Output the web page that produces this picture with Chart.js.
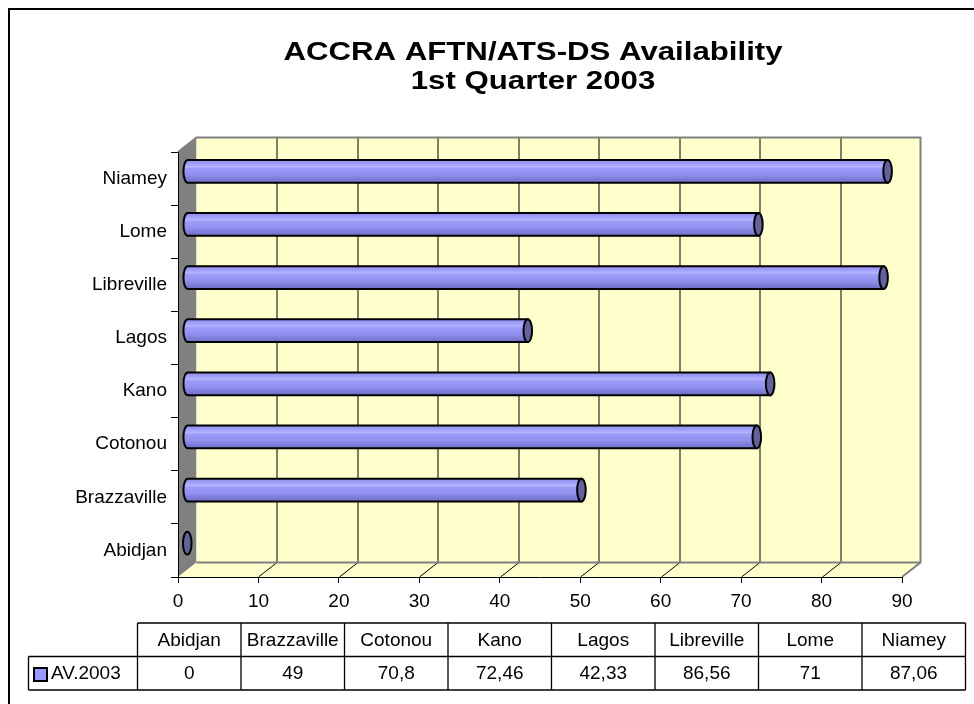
<!DOCTYPE html>
<html>
<head>
<meta charset="utf-8">
<script src="https://cdn.jsdelivr.net/npm/chart.js@4.4.1/dist/chart.umd.min.js"></script>
<style>
  html, body { margin: 0; padding: 0; background: #fff; }
  #wrap { width: 974px; height: 704px; }
</style>
</head>
<body>
<div id="wrap"><canvas id="chart" width="974" height="704"></canvas></div>
<script>
// data
const stations = ['Abidjan', 'Brazzaville', 'Cotonou', 'Kano', 'Lagos', 'Libreville', 'Lome', 'Niamey'];
const av2003 = [0, 49, 70.8, 72.46, 42.33, 86.56, 71, 87.06];
const seriesName = 'AV.2003';
const titleLines = ['ACCRA AFTN/ATS-DS Availability', '1st Quarter 2003'];
const xMin = 0, xMax = 90, xStep = 10;

const FONT = '"Liberation Sans", Arial, sans-serif';
const DX = 18.5, DY = 14.5;   // depth of the 3d box
const WALL = '#FFFFCC';
const SIDE = '#808080';

// table under the plot
const tableLeft = 137.5, colW = 103.5, keyColLeft = 28.5;
const rowTop = 623, rowH = 33.5;

function fmt(v) {
    return String(v).replace('.', ',');
}

const boxPlugin = {
    id: 'box3d',
    beforeDraw(chart) {
        const { ctx, chartArea: a, scales: { x } } = chart;
        ctx.save();
        ctx.fillStyle = '#fff';
        ctx.fillRect(0, 0, chart.width, chart.height);

        // chart frame
        ctx.strokeStyle = '#000';
        ctx.lineWidth = 2;
        ctx.beginPath();
        ctx.moveTo(9, chart.height);
        ctx.lineTo(9, 9);
        ctx.lineTo(chart.width, 9);
        ctx.stroke();

        // title (the original is rendered a bit wide)
        ctx.fillStyle = '#000';
        ctx.font = 'bold 26px ' + FONT;
        ctx.textAlign = 'center';
        ctx.textBaseline = 'middle';
        [53, 82].forEach((ty, i) => {
            ctx.save();
            ctx.translate(533, ty);
            ctx.scale(1.2, 1);
            ctx.fillText(titleLines[i], 0, 0);
            ctx.restore();
        });

        // side wall
        ctx.fillStyle = SIDE;
        ctx.beginPath();
        ctx.moveTo(a.left, a.top);
        ctx.lineTo(a.left + DX, a.top - DY);
        ctx.lineTo(a.left + DX, a.bottom - DY);
        ctx.lineTo(a.left, a.bottom);
        ctx.closePath();
        ctx.fill();

        // back wall
        ctx.fillStyle = WALL;
        ctx.fillRect(a.left + DX, a.top - DY, a.right - a.left, a.bottom - a.top);

        // floor
        ctx.beginPath();
        ctx.moveTo(a.left, a.bottom);
        ctx.lineTo(a.left + DX, a.bottom - DY);
        ctx.lineTo(a.right + DX, a.bottom - DY);
        ctx.lineTo(a.right, a.bottom);
        ctx.closePath();
        ctx.fill();

        // gridlines on back wall and floor
        ctx.strokeStyle = '#000';
        ctx.lineWidth = 1;
        x.ticks.forEach(t => {
            if (t.value <= xMin || t.value >= xMax) return;
            const px = Math.round(x.getPixelForValue(t.value)) + 0.5;
            ctx.beginPath();
            ctx.moveTo(px + DX, a.top - DY);
            ctx.lineTo(px + DX, a.bottom - DY);
            ctx.moveTo(px + DX, a.bottom - DY);
            ctx.lineTo(px, a.bottom);
            ctx.stroke();
        });

        // grey edges of the box
        ctx.strokeStyle = SIDE;
        ctx.lineWidth = 2;
        ctx.beginPath();
        ctx.moveTo(a.left, a.top);
        ctx.lineTo(a.left + DX, a.top - DY);
        ctx.lineTo(a.right + DX, a.top - DY);
        ctx.lineTo(a.right + DX, a.bottom - DY);
        ctx.lineTo(a.right, a.bottom);
        ctx.moveTo(a.left + DX, a.bottom - DY);
        ctx.lineTo(a.right + DX, a.bottom - DY);
        ctx.stroke();
        ctx.restore();
    },
    afterDatasetsDraw(chart) {
        const { ctx } = chart;
        const meta = chart.getDatasetMeta(0);
        ctx.save();
        meta.data.forEach(bar => {
            const p = bar.getProps(['x', 'y', 'base', 'height'], true);
            const x0 = p.base + DX / 2, x1 = p.x + DX / 2;
            const cy = p.y - DY / 2, ry = p.height / 2, rx = 4.3;
            ctx.lineWidth = 2;
            ctx.strokeStyle = '#000';
            if (x1 - x0 > 0.5) {
                const g = ctx.createLinearGradient(0, cy - ry, 0, cy + ry);
                g.addColorStop(0, '#8c8ce6');
                g.addColorStop(0.22, '#a6a6ff');
                g.addColorStop(0.3, '#b4b4ff');
                g.addColorStop(0.38, '#9c9cf8');
                g.addColorStop(0.65, '#9090ee');
                g.addColorStop(0.8, '#8080dc');
                g.addColorStop(1, '#7070c8');
                ctx.fillStyle = g;
                ctx.beginPath();
                ctx.moveTo(x1, cy - ry);
                ctx.lineTo(x0, cy - ry);
                ctx.ellipse(x0, cy, rx, ry, 0, -Math.PI / 2, Math.PI / 2, true);
                ctx.lineTo(x1, cy + ry);
                ctx.closePath();
                ctx.fill();
                ctx.stroke();
            }
            ctx.fillStyle = '#62629e';
            ctx.beginPath();
            ctx.ellipse(x1, cy, rx, ry, 0, 0, Math.PI * 2);
            ctx.fill();
            ctx.stroke();
        });
        ctx.restore();
    },
    afterDraw(chart) {
        const { ctx } = chart;
        ctx.save();
        const right = tableLeft + colW * stations.length;
        ctx.strokeStyle = '#000';
        ctx.lineWidth = 1.3;
        ctx.beginPath();
        // horizontal lines
        ctx.moveTo(tableLeft, rowTop);
        ctx.lineTo(right, rowTop);
        ctx.moveTo(keyColLeft, rowTop + rowH);
        ctx.lineTo(right, rowTop + rowH);
        ctx.moveTo(keyColLeft, rowTop + rowH * 2);
        ctx.lineTo(right, rowTop + rowH * 2);
        // vertical lines
        ctx.moveTo(keyColLeft, rowTop + rowH);
        ctx.lineTo(keyColLeft, rowTop + rowH * 2);
        for (let i = 0; i <= stations.length; i++) {
            const cx = tableLeft + colW * i;
            ctx.moveTo(cx, rowTop);
            ctx.lineTo(cx, rowTop + rowH * 2);
        }
        ctx.stroke();

        ctx.fillStyle = '#000';
        ctx.font = '19px ' + FONT;
        ctx.textAlign = 'center';
        ctx.textBaseline = 'middle';
        stations.forEach((s, i) => {
            const cx = tableLeft + colW * (i + 0.5);
            ctx.fillText(s, cx, rowTop + rowH * 0.5 + 1);
            ctx.fillText(fmt(av2003[i]), cx, rowTop + rowH * 1.5 + 1);
        });

        // legend key
        ctx.fillStyle = '#9999FF';
        ctx.fillRect(34, 668, 13, 13);
        ctx.lineWidth = 2;
        ctx.strokeRect(34, 668, 13, 13);
        ctx.fillStyle = '#000';
        ctx.textAlign = 'left';
        ctx.fillText(seriesName, 51, rowTop + rowH * 1.5 + 1);
        ctx.restore();
    }
};

new Chart(document.getElementById('chart'), {
    type: 'bar',
    data: {
        labels: stations,
        datasets: [{
            label: seriesName,
            data: av2003,
            backgroundColor: 'rgba(0,0,0,0)',
            borderWidth: 0,
            barPercentage: 0.43,
            categoryPercentage: 1,
        }]
    },
    options: {
        indexAxis: 'y',
        responsive: false,
        animation: false,
        layout: {
            padding: { top: 152, right: 72, left: 0, bottom: 0 }
        },
        plugins: {
            legend: { display: false },
            title: { display: false },
            tooltip: { enabled: false },
        },
        scales: {
            x: {
                min: xMin,
                max: xMax,
                afterFit: (scale) => { scale.height = 127; },
                grid: {
                    drawOnChartArea: false,
                    drawTicks: true,
                    tickLength: 6,
                    color: '#000',
                },
                border: { display: true, color: '#000', width: 1 },
                ticks: {
                    stepSize: xStep,
                    color: '#000',
                    padding: 7,
                    font: { family: FONT, size: 19 },
                }
            },
            y: {
                reverse: true,
                afterFit: (scale) => { scale.width = 178; },
                grid: {
                    drawOnChartArea: false,
                    drawTicks: true,
                    tickLength: 7,
                    color: '#000',
                },
                border: { display: true, color: '#000', width: 1 },
                ticks: {
                    color: '#000',
                    padding: 4,
                    font: { family: FONT, size: 19 },
                }
            }
        }
    },
    plugins: [boxPlugin]
});
</script>
</body>
</html>
